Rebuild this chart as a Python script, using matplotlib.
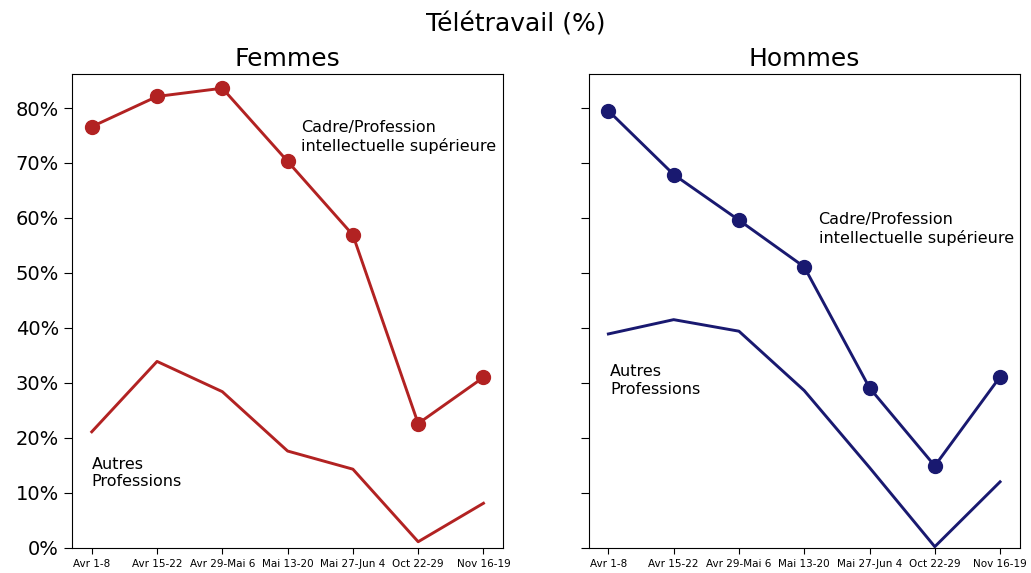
import matplotlib
matplotlib.use("Agg")
import matplotlib.pyplot as plt
from matplotlib.ticker import PercentFormatter

periodes = ["Avr 1-8", "Avr 15-22", "Avr 29-Mai 6", "Mai 13-20",
            "Mai 27-Jun 4", "Oct 22-29", "Nov 16-19"]

femmes_cadres = [76.6, 82.1, 83.6, 70.3, 56.9, 22.6, 31.0]
femmes_autres = [21.1, 33.9, 28.4, 17.6, 14.3, 1.1, 8.1]

hommes_cadres = [79.5, 67.9, 59.6, 51.1, 29.1, 14.9, 31.1]
hommes_autres = [38.9, 41.5, 39.4, 28.6, 14.6, 0.2, 12.0]

rouge = "#b22222"
bleu = "#191970"

fig, (ax1, ax2) = plt.subplots(1, 2, figsize=(10.31, 5.73), dpi=100, sharey=True)
fig.subplots_adjust(left=0.07, right=0.989, top=0.871, bottom=0.044, wspace=0.199)

x = list(range(len(periodes)))

ax1.plot(x, femmes_cadres, color=rouge, lw=2.1, marker="o", ms=10)
ax1.plot(x, femmes_autres, color=rouge, lw=2.1)
ax1.text(3.2, 77.8, "Cadre/Profession\nintellectuelle supérieure", fontsize=11.5, va="top")
ax1.text(0.0, 16.6, "Autres\nProfessions", fontsize=11.5, va="top")
ax1.set_title("Femmes", fontsize=18)

ax2.plot(x, hommes_cadres, color=bleu, lw=2.1, marker="o", ms=10)
ax2.plot(x, hommes_autres, color=bleu, lw=2.1)
ax2.text(3.22, 61.0, "Cadre/Profession\nintellectuelle supérieure", fontsize=11.5, va="top")
ax2.text(0.03, 33.4, "Autres\nProfessions", fontsize=11.5, va="top")
ax2.set_title("Hommes", fontsize=18)

for ax in (ax1, ax2):
    ax.set_xticks(x)
    ax.set_xticklabels(periodes, fontsize=7.5)
    ax.set_ylim(0, 86.2)
    ax.set_yticks(range(0, 90, 10))
    ax.yaxis.set_major_formatter(PercentFormatter(decimals=0))
    ax.tick_params(axis="y", labelsize=14, length=6)
    ax.tick_params(axis="x", length=4.5)
ax2.tick_params(axis="y", labelleft=False)

fig.suptitle("Télétravail (%)", fontsize=18, y=0.978)

fig.savefig("out.png")
